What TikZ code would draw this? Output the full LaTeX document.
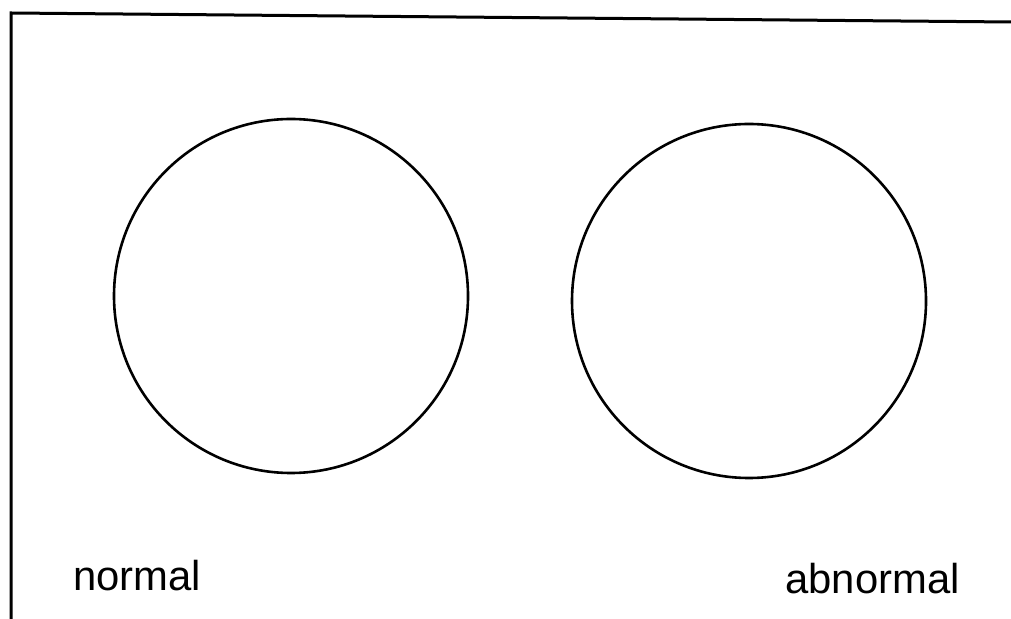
\documentclass[tikz,border=0pt]{standalone}
\usepackage{fontspec}
\setmainfont{Liberation Sans}
\usetikzlibrary{positioning}
\tikzset{
    ring/.style={circle, draw, line width=1.3pt, minimum size=177pt, inner sep=0pt},
    frameline/.style={line width=1.5pt},
    lbl/.style={font=\fontsize{20.9}{24}\selectfont, inner sep=0pt, anchor=base west},
}
\begin{document}
\begin{tikzpicture}[x=0.5pt,y=-0.5pt]
    \useasboundingbox (0,0) rectangle (1011,619);
    % frame
    \coordinate (fbl) at (11,619);
    \coordinate (ftl) at (11,13);
    \coordinate (ftr) at (1011,22);
    \draw[frameline] (fbl) -- (ftl) -- (ftr);

    \node[ring] (normring)   at (291,296) {};
    \node[ring] (abnormring) at (749,301) {};

    \node[lbl] (norm)   at (73,590)  {normal};
    \node[lbl] (abnorm) at (785,593) {abnormal};
\end{tikzpicture}
\end{document}
